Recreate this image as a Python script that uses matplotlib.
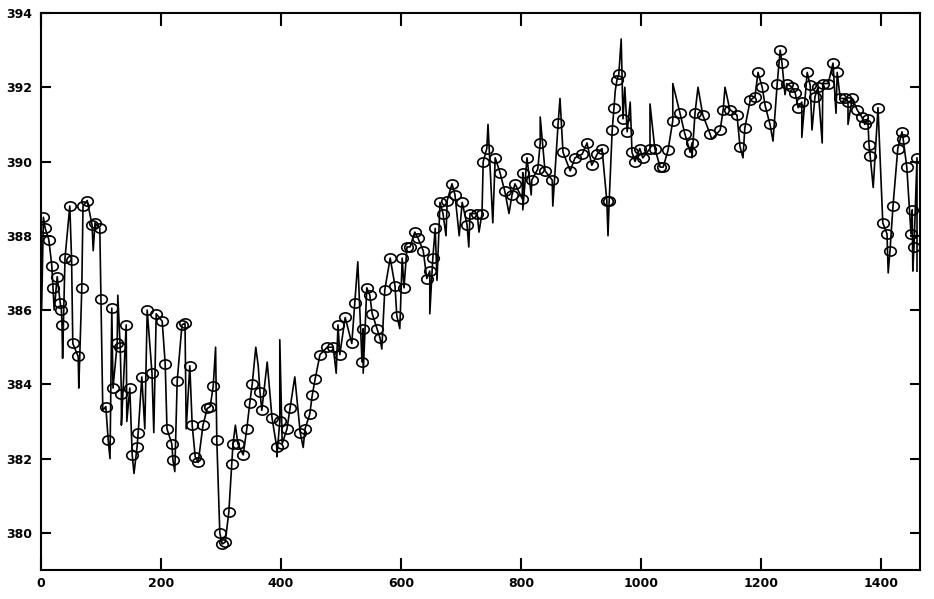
import numpy as np
import matplotlib
matplotlib.use('Agg')
import matplotlib.pyplot as plt
from matplotlib.path import Path
from matplotlib.transforms import Affine2D

# observations drawn with a circle
obs_day = [4, 7, 13, 18, 20, 27, 32, 34, 35, 40, 48, 51, 53, 62, 68, 70, 77, 85, 90, 98,
           100, 108, 112, 118, 120, 127, 132, 134, 142, 148, 152, 160, 162, 168, 177, 185, 192, 202, 207, 210,
           218, 220, 227, 235, 240, 248, 252, 257, 262, 270, 277, 282, 287, 293, 298, 302, 307, 313, 318, 320,
           328, 337, 343, 348, 352, 365, 368, 385, 393, 398, 402, 410, 415, 432, 440, 448, 452, 457, 465, 477,
           487, 495, 498, 507, 518, 523, 535, 537, 543, 548, 552, 560, 565, 573, 582, 590, 593, 602, 605, 610,
           615, 623, 628, 637, 643, 648, 653, 657, 665, 670, 677, 685, 690, 702, 710, 715, 727, 735, 737, 743,
           757, 765, 773, 785, 790, 802, 803, 810, 818, 828, 832, 840, 852, 862, 870, 882, 890, 902, 910, 918,
           927, 935, 943, 947, 952, 955, 960, 963, 970, 977, 985, 990, 998, 1003, 1015, 1023, 1032, 1037, 1045, 1053,
           1065, 1073, 1082, 1085, 1090, 1103, 1115, 1132, 1137, 1148, 1160, 1165, 1173, 1182, 1190, 1195, 1202, 1207, 1215, 1227,
           1232, 1235, 1243, 1252, 1257, 1262, 1268, 1277, 1282, 1290, 1295, 1303, 1312, 1320, 1327, 1332, 1340, 1345, 1352, 1360,
           1368, 1373, 1378, 1380, 1382, 1395, 1403, 1410, 1415, 1420, 1428, 1435, 1437, 1443, 1450, 1452, 1455, 1460]
obs_co2 = [388.5, 388.2, 387.9, 387.2, 386.6, 386.9, 386.2, 386.0, 385.6, 387.4, 388.8, 387.35, 385.1, 384.75, 386.6, 388.8, 388.95, 388.3, 388.35, 388.2,
           386.3, 383.4, 382.5, 386.05, 383.9, 385.1, 385.0, 383.75, 385.6, 383.9, 382.1, 382.3, 382.7, 384.2, 386.0, 384.3, 385.9, 385.7, 384.55, 382.8,
           382.4, 381.95, 384.1, 385.6, 385.65, 384.5, 382.9, 382.05, 381.9, 382.9, 383.35, 383.4, 383.95, 382.5, 380.0, 379.7, 379.75, 380.55, 381.85, 382.4,
           382.4, 382.1, 382.8, 383.5, 384.0, 383.8, 383.3, 383.1, 382.3, 383.0, 382.4, 382.8, 383.35, 382.7, 382.8, 383.2, 383.7, 384.15, 384.8, 385.0,
           385.0, 385.6, 384.8, 385.8, 385.1, 386.2, 384.6, 385.5, 386.6, 386.4, 385.9, 385.5, 385.25, 386.55, 387.4, 386.65, 385.85, 387.4, 386.6, 387.7,
           387.7, 388.1, 387.95, 387.6, 386.85, 387.05, 387.4, 388.2, 388.9, 388.6, 388.95, 389.4, 389.1, 388.9, 388.3, 388.6, 388.6, 388.6, 390.0, 390.35,
           390.1, 389.7, 389.2, 389.1, 389.4, 389.0, 389.7, 390.1, 389.5, 389.8, 390.5, 389.75, 389.5, 391.05, 390.25, 389.75, 390.1, 390.2, 390.5, 389.9,
           390.2, 390.35, 388.95, 388.95, 390.85, 391.45, 392.2, 392.35, 391.15, 390.8, 390.25, 390.0, 390.35, 390.1, 390.35, 390.35, 389.85, 389.85, 390.3, 391.1,
           391.3, 390.75, 390.25, 390.5, 391.3, 391.25, 390.75, 390.85, 391.4, 391.4, 391.25, 390.4, 390.9, 391.65, 391.75, 392.4, 392.0, 391.5, 391.0, 392.1,
           393.0, 392.65, 392.1, 392.0, 391.85, 391.45, 391.6, 392.4, 392.05, 391.75, 392.0, 392.1, 392.1, 392.65, 392.4, 391.7, 391.7, 391.6, 391.7, 391.4,
           391.2, 391.0, 391.15, 390.45, 390.15, 391.45, 388.35, 388.05, 387.6, 388.8, 390.35, 390.8, 390.6, 389.85, 388.05, 388.7, 387.7, 390.1]

# unmarked excursions of the trace
spike_day = [1, 22, 36, 63, 87, 103, 115, 128, 134, 143, 155, 173, 188, 223, 242,
             291, 324, 358, 362, 377, 398, 393, 423, 437, 492, 528, 537, 568, 598, 648,
             660, 675, 697, 713, 730, 745, 753, 780, 803, 817, 832, 853, 865, 945, 957,
             967, 973, 982, 1015, 1053, 1085, 1095, 1118, 1140, 1170, 1220, 1240, 1268, 1285, 1302,
             1325, 1345, 1387, 1412, 1453, 1460]
spike_co2 = [386.0, 386.0, 384.7, 383.9, 387.6, 383.3, 382.0, 386.4, 382.9, 383.0, 381.6, 382.8, 382.7, 381.65, 382.8,
             385.0, 382.9, 385.0, 384.5, 384.6, 385.2, 382.05, 384.2, 382.3, 384.3, 387.3, 384.3, 384.95, 385.5, 385.9,
             386.8, 388.0, 388.0, 387.7, 388.1, 391.0, 388.35, 388.6, 388.7, 389.1, 391.2, 388.8, 391.7, 388.0, 391.9,
             393.3, 392.0, 391.6, 391.55, 392.1, 390.1, 392.0, 390.6, 392.0, 390.1, 390.55, 391.8, 390.65, 390.85, 390.5,
             391.3, 391.0, 389.3, 387.0, 387.05, 387.05]

x_ticks = [0, 200, 400, 600, 800, 1000, 1200, 1400]
y_ticks = [380, 382, 384, 386, 388, 390, 392, 394]

day = np.array(obs_day + spike_day)
co2 = np.array(obs_co2 + spike_co2)
order = np.argsort(day, kind='stable')

# slightly flattened circle like the original plotter symbol
oval = Path.unit_circle().transformed(Affine2D().scale(1.25, 1.0))

plt.rcParams['font.family'] = 'DejaVu Sans'
plt.rcParams['font.weight'] = 'bold'

fig = plt.figure(figsize=(9.34, 5.99), dpi=100)
ax = fig.add_axes([41 / 934, 29 / 599, 879 / 934, 557 / 599])
ax.plot(day[order], co2[order], color='black', lw=1.2)
ax.plot(obs_day, obs_co2, linestyle='none', marker=oval, ms=8.3,
        mfc='none', mec='black', mew=1.2)

ax.set_xlim(0, 1465)
ax.set_ylim(379, 394)
ax.set_xticks(x_ticks)
ax.set_yticks(y_ticks)
ax.tick_params(direction='in', top=True, right=True, width=1.5, labelsize=9)
ax.tick_params(axis='x', length=9, pad=5)
ax.tick_params(axis='y', length=7.5, pad=6.5)
for s in ax.spines.values():
    s.set_linewidth(1.5)

fig.savefig('out.png', dpi=100)
